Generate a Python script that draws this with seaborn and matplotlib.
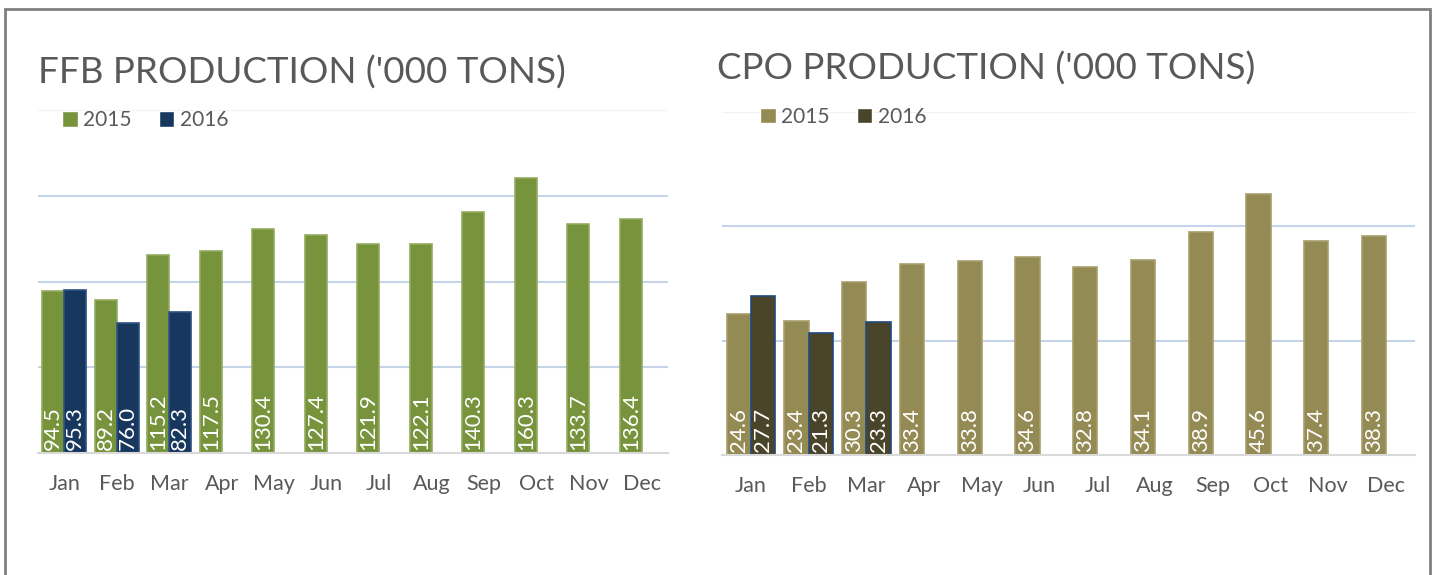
import pandas as pd
import seaborn as sns
import matplotlib.pyplot as plt
from matplotlib.patches import Rectangle

# data
months = ['Jan', 'Feb', 'Mar', 'Apr', 'May', 'Jun', 'Jul', 'Aug', 'Sep', 'Oct', 'Nov', 'Dec']
ffb_2015 = [94.5, 89.2, 115.2, 117.5, 130.4, 127.4, 121.9, 122.1, 140.3, 160.3, 133.7, 136.4]
ffb_2016 = [95.3, 76.0, 82.3]
cpo_2015 = [24.6, 23.4, 30.3, 33.4, 33.8, 34.6, 32.8, 34.1, 38.9, 45.6, 37.4, 38.3]
cpo_2016 = [27.7, 21.3, 23.3]
years = ['2015', '2016']

TEXT = '#595959'
GRID = '#c6d4ea'


def make_frame(v2015, v2016):
    rows = [(m, '2015', v) for m, v in zip(months, v2015)]
    rows += [(m, '2016', v) for m, v in zip(months, v2016)]
    return pd.DataFrame(rows, columns=['month', 'year', 'value'])


def draw_panel(ax, df, colors, edges, title, yticks, title_xy, legend_xy):
    sns.barplot(data=df, x='month', y='value', hue='year', hue_order=years, order=months,
                palette=colors, width=0.84, saturation=1, ax=ax, legend=True)
    # edges and value labels at the bar base
    for cont, ec in zip(ax.containers, edges):
        for bar in cont:
            bar.set_edgecolor(ec)
            bar.set_linewidth(1.2)
            h = bar.get_height()
            if pd.isna(h):
                continue
            ax.text(bar.get_x() + bar.get_width() / 2, yticks[-1] * 0.008, f'{h:.1f}',
                    rotation=90, ha='center', va='bottom', color='white', fontsize=16)
    ax.set_xlim(-0.5, len(months) - 0.5)
    ax.set_ylim(0, yticks[-1])
    ax.set_yticks(yticks)
    ax.tick_params(axis='y', length=0, labelleft=False)
    ax.set_xticks(range(len(months)))
    ax.set_xticks([i - 0.5 for i in range(len(months) + 1)], minor=True)
    ax.tick_params(axis='x', which='major', length=0, pad=15, labelsize=15.5, labelcolor=TEXT)
    ax.tick_params(axis='x', which='minor', length=8, width=1.5, color='#d9d9d9')
    ax.grid(axis='y', color=GRID, linewidth=1.5)
    ax.get_ygridlines()[-1].set_color('#eef2f9')
    ax.set_axisbelow(True)
    for side in ['top', 'right', 'left']:
        ax.spines[side].set_visible(False)
    ax.spines['bottom'].set_color('#d9d9d9')
    ax.spines['bottom'].set_linewidth(1.5)
    ax.set_xlabel('')
    ax.set_ylabel('')
    handles, labels = ax.get_legend_handles_labels()
    ax.legend(handles, labels, loc='center left', bbox_to_anchor=legend_xy, ncol=2,
              frameon=False, fontsize=15, labelcolor=TEXT, handlelength=0.75, handleheight=0.75,
              handletextpad=0.25, columnspacing=1.3, borderpad=0)
    ax.figure.text(title_xy[0], title_xy[1], title, fontsize=26.5, color=TEXT, va='center', ha='left')


sns.set_style('white')
plt.rcParams['font.family'] = ['Lato', 'DejaVu Sans']

W, H = 1434, 575
fig = plt.figure(figsize=(W / 100, H / 100), dpi=100)
ax1 = fig.add_axes([38 / W, 122 / H, 630 / W, 343 / H])
ax2 = fig.add_axes([722 / W, 120 / H, 693 / W, 343.5 / H])

draw_panel(ax1, make_frame(ffb_2015, ffb_2016), ['#77933c', '#17375e'], ['#93ab5f', '#2c5282'],
           "FFB PRODUCTION ('000 TONS)", [0, 50, 100, 150, 200],
           (38 / W, 1 - 73 / H), (14 / 630, 0.97))
draw_panel(ax2, make_frame(cpo_2015, cpo_2016), ['#948a54', '#4a452a'], ['#a89e6c', '#1f497d'],
           "CPO PRODUCTION ('000 TONS)", [0, 20, 40, 60],
           (717 / W, 1 - 69 / H), (28 / 693, 0.985))

# outer frame around the whole picture
fig.patches.append(Rectangle((5 / W, -0.1), 1425 / W, 1.1 - 9 / H, transform=fig.transFigure,
                             fill=False, edgecolor='#808080', linewidth=2))

fig.savefig('out.png', dpi=100)
